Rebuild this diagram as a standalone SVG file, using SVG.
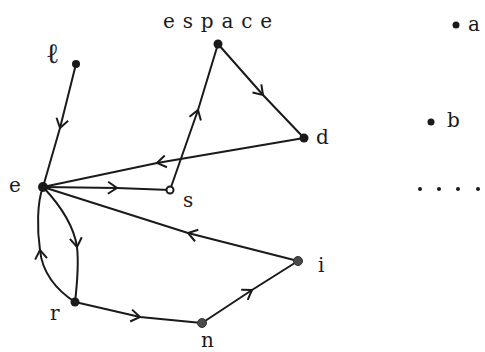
<svg xmlns="http://www.w3.org/2000/svg" width="485" height="352" viewBox="0 0 485 352">
<style>
.edge{fill:none;stroke:#1a1a1a;stroke-width:2;marker-mid:url(#chev)}
.dot{fill:#1a1a1a}
.gdot{fill:#4a4a4a;stroke:#333;stroke-width:1}
.open{fill:#fff;stroke:#1a1a1a;stroke-width:2}
.lbl{font-family:"DejaVu Serif","Liberation Serif",serif;font-size:20px;fill:#1a1a1a}
</style>
<defs>
<marker id="chev" markerUnits="userSpaceOnUse" markerWidth="24" markerHeight="24" viewBox="-12 -12 24 24" refX="0" refY="0" orient="auto" overflow="visible">
<path d="M-9,-6 L0,0 L-9,6" fill="none" stroke="#1a1a1a" stroke-width="2"/>
</marker>
</defs>
<rect width="485" height="352" fill="#fff"/>
<g id="connectors">
<path class="edge" d="M76,64 L60,128 L43,187"/>
<path class="edge" d="M43,187 L117,188 L170,190"/>
<path class="edge" d="M170,190 L198,110 L218,44"/>
<path class="edge" d="M218,44 L263,95 L304,138"/>
<path class="edge" d="M304,138 L157,163 L43,187"/>
<path class="edge" d="M298,261 L188,233 L43,187"/>
<path class="edge" d="M202,323 L252,290 L298,261"/>
<path class="edge" d="M75,302 L140,317 L202,323"/>
<path class="edge" d="M43,187 C60,205 74,227 77,247 C79,265 77,285 75,302"/>
<path class="edge" d="M75,302 C56,290 42,272 40,250 C37,230 37,202 43,187"/>
</g>
<g id="node-l"><circle class="dot" cx="76" cy="64" r="4"/><text class="lbl" x="46" y="63" style="font-size:28px">ℓ</text></g>
<g id="node-espace"><circle class="dot" cx="218" cy="44" r="4.5"/><text class="lbl" x="163" y="28" textLength="109" lengthAdjust="spacing">espace</text></g>
<g id="node-d"><circle class="dot" cx="304" cy="138" r="4.5"/><text class="lbl" x="316" y="144">d</text></g>
<g id="node-e"><circle class="dot" cx="43" cy="187" r="5"/><text class="lbl" x="9" y="192">e</text></g>
<g id="node-s"><circle class="open" cx="170" cy="190" r="3.5"/><text class="lbl" x="183" y="207">s</text></g>
<g id="node-r"><circle class="dot" cx="75" cy="302" r="4.5"/><text class="lbl" x="50" y="320">r</text></g>
<g id="node-n"><circle class="gdot" cx="202" cy="323" r="4.5"/><text class="lbl" x="201" y="347">n</text></g>
<g id="node-i"><circle class="gdot" cx="298" cy="261" r="4.5"/><text class="lbl" x="318" y="272">i</text></g>
<g id="node-a"><circle class="dot" cx="456" cy="25" r="3.5"/><text class="lbl" x="468" y="31">a</text></g>
<g id="node-b"><circle class="dot" cx="431" cy="122" r="3.5"/><text class="lbl" x="447" y="127">b</text></g>
<g id="ellipsis">
<circle class="dot" cx="420" cy="189" r="2"/>
<circle class="dot" cx="439" cy="189" r="2"/>
<circle class="dot" cx="458" cy="189" r="2"/>
<circle class="dot" cx="478" cy="189" r="2"/>
</g>
</svg>
